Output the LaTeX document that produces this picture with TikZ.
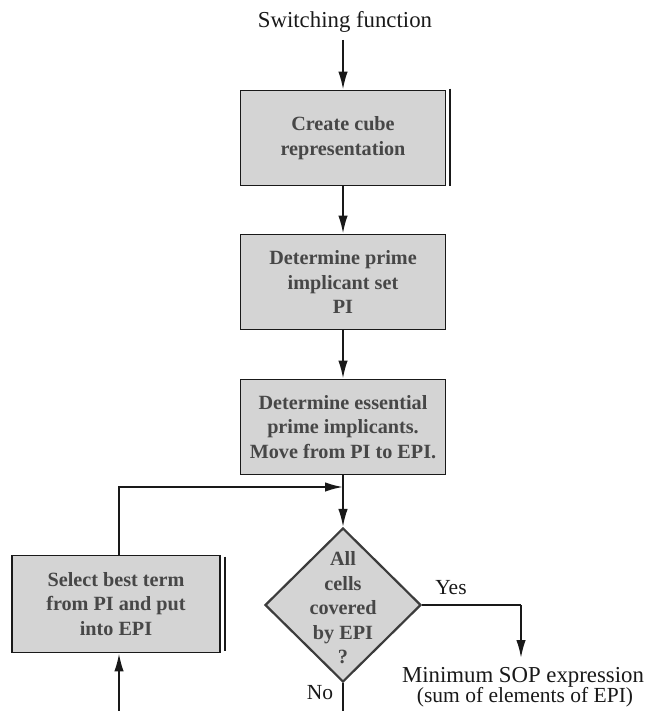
\documentclass[tikz,border=0pt]{standalone}
\usepackage{fontspec}
\setmainfont{Liberation Serif}
\usetikzlibrary{shapes.geometric,arrows.meta}
\definecolor{boxfill}{RGB}{212,212,212}
\definecolor{ink}{RGB}{25,25,25}
\begin{document}
\begin{tikzpicture}[x=1pt,y=-1pt,
  proc/.style={draw=ink,line width=1.9pt,fill=boxfill,minimum width=205pt,minimum height=95pt,
    inner sep=0pt,align=center,font=\fontsize{20.2}{24.5}\selectfont\bfseries,text=ink!80},
  dec/.style={draw=ink!85,line width=2.2pt,fill=boxfill,shape=diamond,minimum width=156pt,
    minimum height=154pt,inner sep=0pt},
  dectext/.style={align=center,font=\fontsize{20.2}{24.5}\selectfont\bfseries,text=ink!80},
  plain/.style={font=\fontsize{22.8}{27}\selectfont,text=ink},
  small/.style={font=\fontsize{21.5}{25}\selectfont,text=ink},
  arr/.style={line width=1.9pt,draw=ink,-{Latex[length=18pt,width=9.5pt]}},
  ln/.style={line width=1.9pt,draw=ink},
  edgeline/.style={line width=1.6pt,draw=ink}]
\useasboundingbox (0,0) rectangle (650,711);

% title
\node[plain] (title) at (345,22) {Switching function};

% process boxes
\node[proc] (b1) at (343,138) {Create cube\\representation};
\node[proc] (b2) at (343,282) {Determine prime\\implicant set\\PI};
\node[proc] (b3) at (343,427) {Determine essential\\prime implicants.\\Move from PI to EPI.};
\node[proc,minimum width=208pt,minimum height=97pt] (b4) at (116,604) {Select best term\\from PI and put\\into EPI};

% right-hand edge lines of the printed boxes
\draw[edgeline] ([xshift=3.5pt,yshift=1pt]b1.north east) -- ([xshift=3.5pt]b1.south east);
\draw[edgeline] ([xshift=4pt,yshift=-2pt]b4.north east) -- ([xshift=4pt,yshift=2pt]b4.south east);

% decision
\node[dec] (d) at (343,605) {};
\node[dectext] (dt) at (343,608) {All\\cells\\covered\\by EPI\\?};

% outputs / labels
\node[plain] (res) at (523,677) {Minimum SOP expression};
\node[small] (res2) at (525,697) {(sum of elements of EPI)};
\node[small] (yes) at (451,588) {Yes};
\node[small] (no) at (320,693) {No};

% helper coordinates
\coordinate (tstart) at (343,40);
\coordinate (join) at (343,487);
\coordinate (fbcorner) at (119,487);
\coordinate (ycorner) at (521,605);
\coordinate (yend) at (521,658);
\coordinate (nobottom) at (343,711);
\coordinate (inbottom) at (119,711);

% connectors
\draw[arr] (tstart) -- (b1.north);
\draw[arr] (b1.south) -- (b2.north);
\draw[arr] (b2.south) -- (b3.north);
\draw[arr] (b3.south) -- (d.north);
\draw[arr] (b4.north -| fbcorner) -- (fbcorner) -- (join);
\draw[ln] (d.east) -- (ycorner);
\draw[arr] (ycorner) -- (yend);
\draw[ln] (d.south) -- (nobottom);
\draw[arr] (inbottom) -- (b4.south -| inbottom);
\end{tikzpicture}
\end{document}
